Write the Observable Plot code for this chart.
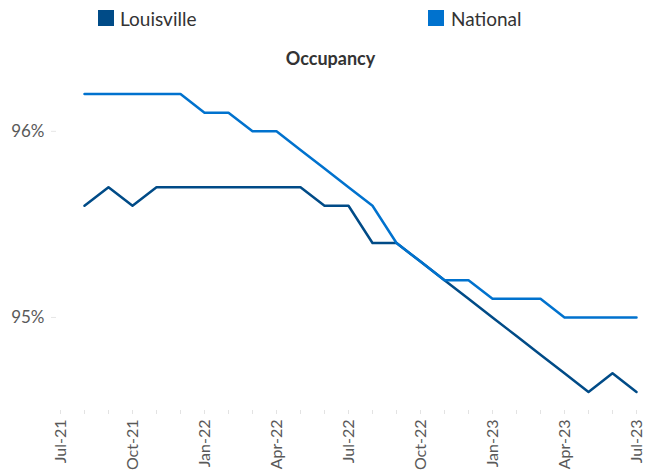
<!DOCTYPE html>
<html><head><meta charset="utf-8">
<script src="https://cdn.jsdelivr.net/npm/d3@7"></script>
<script src="https://cdn.jsdelivr.net/npm/@observablehq/plot@0.6"></script>
<style>
body{margin:0;background:#fff;font-family:Lato,"Open Sans",sans-serif;}
#wrap{position:relative;width:649px;height:471px;overflow:hidden;}
.sw{position:absolute;width:16px;height:16px;top:10px;}
.lg{position:absolute;top:8.5px;font-size:19px;line-height:19px;color:#333;}
#title{position:absolute;left:0;width:661px;text-align:center;top:49px;font-size:18px;line-height:18px;font-weight:bold;color:#333;}
#chart{position:absolute;left:0;top:70px;}
</style></head><body>
<div id="wrap">
  <div class="sw" id="sw0" style="left:98px;"></div><div class="lg" id="lg0" style="left:120px;"></div>
  <div class="sw" id="sw1" style="left:428px;"></div><div class="lg" id="lg1" style="left:451px;"></div>
  <div id="title">Occupancy</div>
  <div id="chart"></div>
</div>
<script>
const months = ["Jul-21","Aug-21","Sep-21","Oct-21","Nov-21","Dec-21","Jan-22","Feb-22","Mar-22","Apr-22","May-22","Jun-22","Jul-22","Aug-22","Sep-22","Oct-22","Nov-22","Dec-22","Jan-23","Feb-23","Mar-23","Apr-23","May-23","Jun-23","Jul-23"];
const tickLabels = ["Jul-21","Oct-21","Jan-22","Apr-22","Jul-22","Oct-22","Jan-23","Apr-23","Jul-23"];
const dataMonths = ["Aug-21","Sep-21","Oct-21","Nov-21","Dec-21","Jan-22","Feb-22","Mar-22","Apr-22","May-22","Jun-22","Jul-22","Aug-22","Sep-22","Oct-22","Nov-22","Dec-22","Jan-23","Feb-23","Mar-23","Apr-23","May-23","Jun-23","Jul-23"];
const louisville = [95.6,95.7,95.6,95.7,95.7,95.7,95.7,95.7,95.7,95.7,95.6,95.6,95.4,95.4,95.3,95.2,95.1,95.0,94.9,94.8,94.7,94.6,94.7,94.6];
const national   = [96.2,96.2,96.2,96.2,96.2,96.1,96.1,96.0,96.0,95.9,95.8,95.7,95.6,95.4,95.3,95.2,95.2,95.1,95.1,95.1,95.0,95.0,95.0,95.0];
const yTicks = [95, 96];
const seriesNames = ["Louisville","National"];
const seriesColors = ["#004B87","#0072CE"];

seriesNames.forEach((n,i)=>{
  document.getElementById("sw"+i).style.background = seriesColors[i];
  document.getElementById("lg"+i).textContent = n;
});

const rows = [];
dataMonths.forEach((m,i)=>{
  rows.push({month:m, value:louisville[i], series:seriesNames[0]});
});
dataMonths.forEach((m,i)=>{
  rows.push({month:m, value:national[i], series:seriesNames[1]});
});

const chart = Plot.plot({
  width: 649,
  height: 401,
  marginTop: 5,
  marginBottom: 61,
  marginLeft: 56,
  marginRight: 10,
  style: {fontFamily: "Lato, 'Open Sans', sans-serif", background: "#fff"},
  x: {type: "point", domain: months, padding: 0, label: null},
  y: {domain: [94.5, 96.3], label: null},
  color: {domain: seriesNames, range: seriesColors},
  marks: [
    Plot.axisX({ticks: months, tickSize: 4, tickFormat: () => "", stroke: "#e3e3e3", label: null}),
    Plot.axisX({ticks: tickLabels, tickSize: 0, tickPadding: 9, tickRotate: -90, fontSize: 16, color: "#595959", label: null}),
    Plot.axisY({ticks: yTicks, tickSize: 5, tickPadding: 7, stroke: "#e6e6e6", tickFormat: d => d + "%", fontSize: 17, color: "#595959", label: null}),
    Plot.line(rows, {x: "month", y: "value", stroke: "series", strokeWidth: 2.5})
  ]
});
document.getElementById("chart").appendChild(chart);
</script>
</body></html>
